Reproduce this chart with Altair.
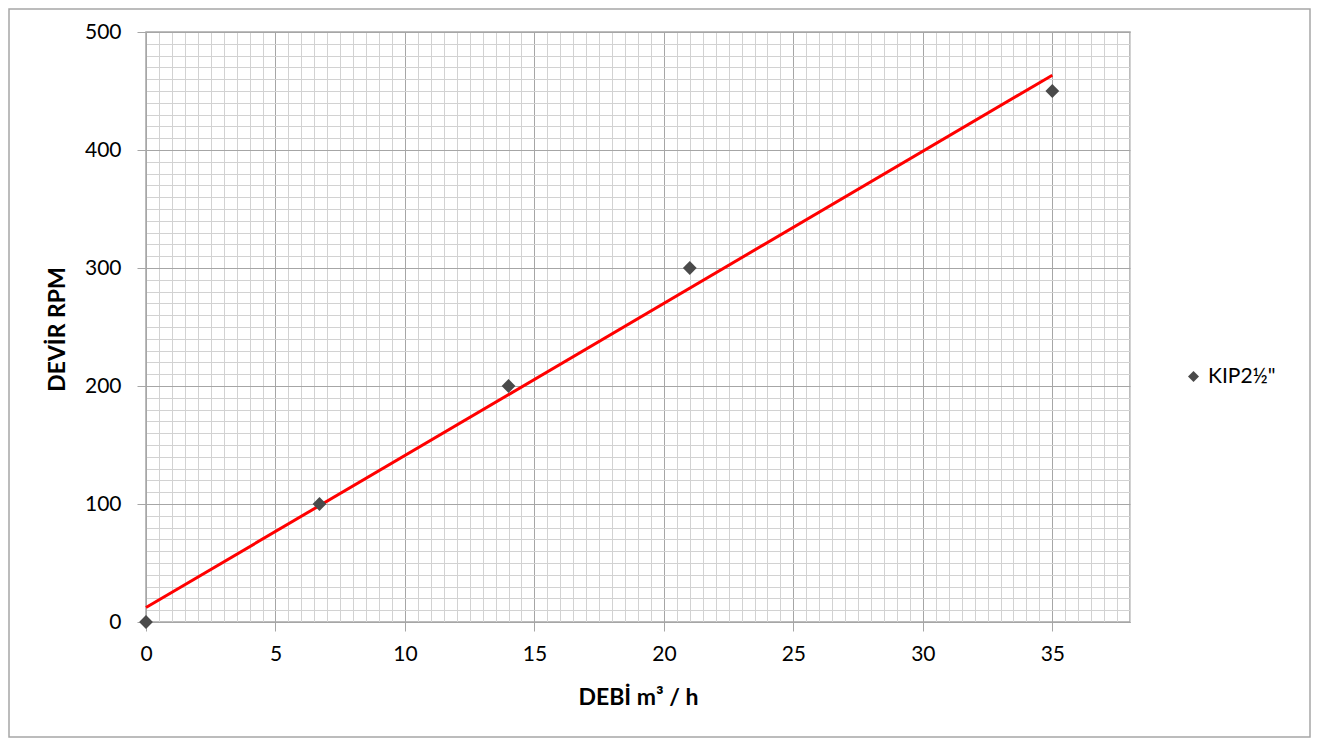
import altair as alt
import pandas as pd

# Data
debi = [0.0, 6.7, 14.0, 21.0, 35.0]
devir = [0, 100, 200, 300, 450]
series = ['KIP2½"'] * len(debi)

df = pd.DataFrame({"debi": debi, "devir": devir, "series": series})

FONT = "Lato"
MAJOR = "#a6a6a6"
MINOR = "#d2d2d2"

x_minor = [i * 0.5 for i in range(0, 77)]
y_minor = list(range(0, 510, 10))

x_axis = alt.Axis(
    values=x_minor,
    labelExpr="datum.value % 5 === 0 ? format(datum.value, 'd') : ''",
    grid=True,
    gridColor={"condition": {"test": "datum.value % 5 === 0", "value": MAJOR}, "value": MINOR},
    gridWidth=1,
    tickColor={"condition": {"test": "datum.value % 5 === 0", "value": MAJOR}, "value": "transparent"},
    tickSize=9,
    domainColor=MAJOR,
    labelFont=FONT,
    labelFontSize=21,
    labelColor="#000000",
    labelPadding=12,
    labelFlush=False,
    labelOverlap=False,
    title="DEBİ m³ / h",
    titleFont=FONT,
    titleFontSize=23,
    titleFontWeight="bold",
    titleColor="#000000",
    titleX=492,
    titleY=75,
    titleBaseline="middle",
    titleAlign="center",
)

y_axis = alt.Axis(
    values=y_minor,
    labelExpr="datum.value % 100 === 0 ? format(datum.value, 'd') : ''",
    grid=True,
    gridColor={"condition": {"test": "datum.value % 100 === 0", "value": MAJOR}, "value": MINOR},
    gridWidth=1,
    tickColor={"condition": {"test": "datum.value % 100 === 0", "value": MAJOR}, "value": "transparent"},
    tickSize=9,
    domainColor=MAJOR,
    labelFont=FONT,
    labelFontSize=21,
    labelColor="#000000",
    labelPadding=16,
    labelFlush=False,
    labelOverlap=False,
    title="DEVİR RPM",
    titleFont=FONT,
    titleFontSize=23,
    titleFontWeight="bold",
    titleColor="#000000",
    titleX=-89,
    titleY=297,
    titleAngle=270,
    titleBaseline="middle",
    titleAlign="center",
)

x_scale = alt.Scale(domain=[0, 38], nice=False, zero=False)
y_scale = alt.Scale(domain=[0, 500], nice=False)

base = alt.Chart(df)

points = base.mark_point(shape="diamond", filled=True, size=190, opacity=1).encode(
    x=alt.X("debi:Q", scale=x_scale, axis=x_axis),
    y=alt.Y("devir:Q", scale=y_scale, axis=y_axis),
    color=alt.Color(
        "series:N",
        scale=alt.Scale(range=["#4a4a4a"]),
        legend=alt.Legend(
            title=None,
            orient="none",
            legendX=1037,
            legendY=334,
            labelFont=FONT,
            labelFontSize=21,
            labelColor="#000000",
            symbolType="diamond",
            symbolSize=120,
            labelOffset=4,
        ),
    ),
)

trend = base.transform_regression("debi", "devir").mark_line(
    color="#ff0000", strokeWidth=3
).encode(
    x=alt.X("debi:Q", scale=x_scale, axis=x_axis),
    y=alt.Y("devir:Q", scale=y_scale, axis=y_axis),
)

border_df = pd.DataFrame({"k": [0]})
border = alt.Chart(border_df).mark_rect(
    fillOpacity=0, stroke="#a6a6a6", strokeWidth=1.5
).encode(
    x=alt.value(-137), x2=alt.value(1164), y=alt.value(-23), y2=alt.value(705)
)

chart = alt.layer(border, trend, points).properties(
    width=984,
    height=590,
    autosize=alt.AutoSizeParams(type="none"),
    padding={"left": 138, "top": 24, "right": 182, "bottom": 116},
    background="white",
).configure_view(
    stroke=MAJOR, strokeWidth=1.5
)

chart.save("out.html", embed_options={"renderer": "svg", "actions": False})
